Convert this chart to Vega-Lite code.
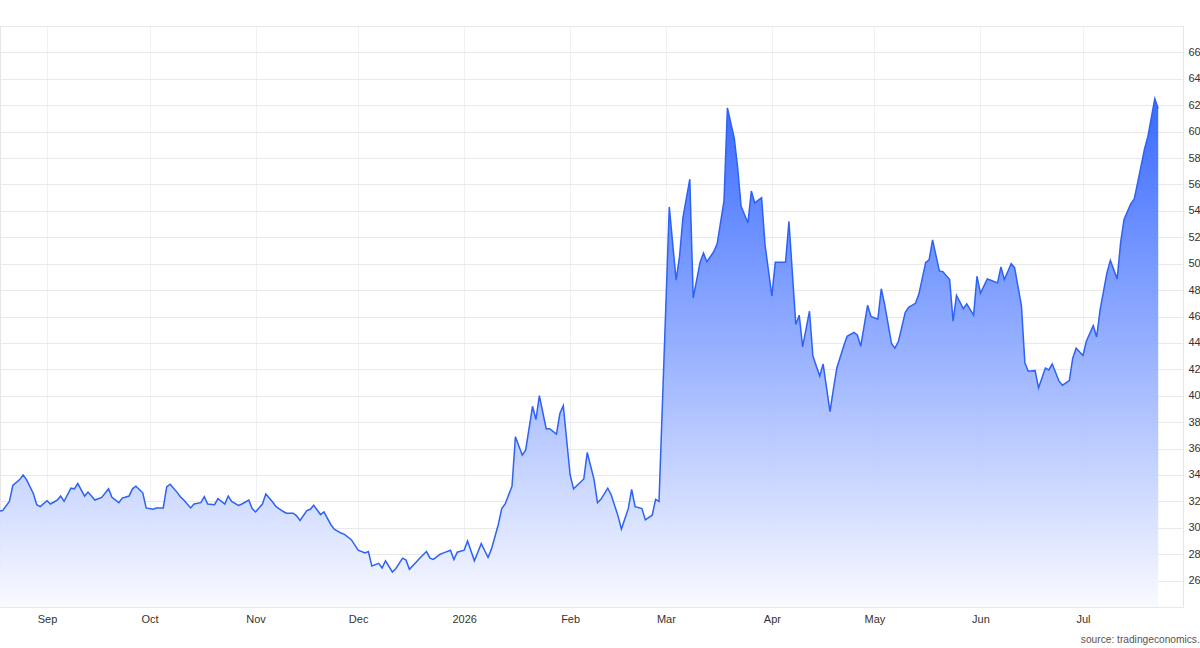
{
  "$schema": "https://vega.github.io/schema/vega-lite/v6.json",
  "width": 1183,
  "height": 581,
  "autosize": "none",
  "padding": {"left": 0, "top": 26, "right": 17, "bottom": 41},
  "background": "white",
  "config": {"view": {"stroke": "#e6e6e6", "strokeWidth": 1}, "font": "Liberation Sans"},
  "title": {"text": "source: tradingeconomics.com", "orient": "bottom", "anchor": "end", "frame": "group", "dx": 36, "offset": 11, "fontSize": 10.2, "fontWeight": "normal", "color": "#555555"},
  "data": {"values": [
    {"date": "2025-08-18", "v": 31.25}, {"date": "2025-08-19", "v": 31.3}, {"date": "2025-08-21", "v": 32.0}, {"date": "2025-08-22", "v": 33.2},
    {"date": "2025-08-24", "v": 33.65}, {"date": "2025-08-25", "v": 34.0}, {"date": "2025-08-26", "v": 33.65}, {"date": "2025-08-28", "v": 32.6},
    {"date": "2025-08-29", "v": 31.75}, {"date": "2025-08-30", "v": 31.6}, {"date": "2025-09-01", "v": 32.05}, {"date": "2025-09-02", "v": 31.8},
    {"date": "2025-09-04", "v": 32.1}, {"date": "2025-09-05", "v": 32.4}, {"date": "2025-09-06", "v": 32.0}, {"date": "2025-09-08", "v": 33.0},
    {"date": "2025-09-09", "v": 32.95}, {"date": "2025-09-10", "v": 33.35}, {"date": "2025-09-12", "v": 32.4}, {"date": "2025-09-13", "v": 32.7},
    {"date": "2025-09-15", "v": 32.1}, {"date": "2025-09-17", "v": 32.3}, {"date": "2025-09-19", "v": 32.95}, {"date": "2025-09-20", "v": 32.3},
    {"date": "2025-09-22", "v": 31.9}, {"date": "2025-09-23", "v": 32.25}, {"date": "2025-09-25", "v": 32.4}, {"date": "2025-09-26", "v": 32.95},
    {"date": "2025-09-27", "v": 33.15}, {"date": "2025-09-29", "v": 32.65}, {"date": "2025-09-30", "v": 31.5}, {"date": "2025-10-02", "v": 31.4},
    {"date": "2025-10-03", "v": 31.5}, {"date": "2025-10-05", "v": 31.5}, {"date": "2025-10-06", "v": 33.1}, {"date": "2025-10-07", "v": 33.3},
    {"date": "2025-10-09", "v": 32.7}, {"date": "2025-10-10", "v": 32.35}, {"date": "2025-10-11", "v": 32.1}, {"date": "2025-10-13", "v": 31.5},
    {"date": "2025-10-14", "v": 31.8}, {"date": "2025-10-16", "v": 31.9}, {"date": "2025-10-17", "v": 32.35}, {"date": "2025-10-18", "v": 31.8},
    {"date": "2025-10-20", "v": 31.75}, {"date": "2025-10-21", "v": 32.2}, {"date": "2025-10-23", "v": 31.8}, {"date": "2025-10-24", "v": 32.4},
    {"date": "2025-10-25", "v": 32.0}, {"date": "2025-10-27", "v": 31.7}, {"date": "2025-10-28", "v": 31.8}, {"date": "2025-10-30", "v": 32.1},
    {"date": "2025-10-31", "v": 31.45}, {"date": "2025-11-01", "v": 31.2}, {"date": "2025-11-03", "v": 31.8}, {"date": "2025-11-04", "v": 32.55},
    {"date": "2025-11-06", "v": 31.95}, {"date": "2025-11-07", "v": 31.6}, {"date": "2025-11-09", "v": 31.25}, {"date": "2025-11-10", "v": 31.1},
    {"date": "2025-11-12", "v": 31.1}, {"date": "2025-11-13", "v": 30.9}, {"date": "2025-11-14", "v": 30.55}, {"date": "2025-11-16", "v": 31.3},
    {"date": "2025-11-17", "v": 31.4}, {"date": "2025-11-18", "v": 31.7}, {"date": "2025-11-20", "v": 31.0}, {"date": "2025-11-21", "v": 31.2},
    {"date": "2025-11-23", "v": 30.25}, {"date": "2025-11-24", "v": 29.9}, {"date": "2025-11-26", "v": 29.6}, {"date": "2025-11-27", "v": 29.5},
    {"date": "2025-11-29", "v": 29.1}, {"date": "2025-11-30", "v": 28.7}, {"date": "2025-12-01", "v": 28.3}, {"date": "2025-12-03", "v": 28.1},
    {"date": "2025-12-04", "v": 28.2}, {"date": "2025-12-05", "v": 27.1}, {"date": "2025-12-07", "v": 27.3}, {"date": "2025-12-08", "v": 26.95},
    {"date": "2025-12-09", "v": 27.5}, {"date": "2025-12-11", "v": 26.65}, {"date": "2025-12-12", "v": 26.9}, {"date": "2025-12-14", "v": 27.7},
    {"date": "2025-12-15", "v": 27.55}, {"date": "2025-12-16", "v": 26.85}, {"date": "2025-12-18", "v": 27.4}, {"date": "2025-12-19", "v": 27.7},
    {"date": "2025-12-21", "v": 28.2}, {"date": "2025-12-22", "v": 27.7}, {"date": "2025-12-23", "v": 27.6}, {"date": "2025-12-25", "v": 28.0},
    {"date": "2025-12-26", "v": 28.1}, {"date": "2025-12-28", "v": 28.3}, {"date": "2025-12-29", "v": 27.6}, {"date": "2025-12-30", "v": 28.15},
    {"date": "2026-01-01", "v": 28.3}, {"date": "2026-01-02", "v": 29.0}, {"date": "2026-01-04", "v": 27.5}, {"date": "2026-01-05", "v": 28.15},
    {"date": "2026-01-06", "v": 28.8}, {"date": "2026-01-08", "v": 27.75}, {"date": "2026-01-09", "v": 28.4}, {"date": "2026-01-11", "v": 30.25},
    {"date": "2026-01-12", "v": 31.45}, {"date": "2026-01-13", "v": 31.8}, {"date": "2026-01-15", "v": 33.15}, {"date": "2026-01-16", "v": 36.9},
    {"date": "2026-01-18", "v": 35.5}, {"date": "2026-01-19", "v": 35.9}, {"date": "2026-01-21", "v": 39.2}, {"date": "2026-01-22", "v": 38.2},
    {"date": "2026-01-23", "v": 40.0}, {"date": "2026-01-25", "v": 37.5}, {"date": "2026-01-26", "v": 37.5}, {"date": "2026-01-28", "v": 37.1},
    {"date": "2026-01-29", "v": 38.65}, {"date": "2026-01-30", "v": 39.25}, {"date": "2026-02-01", "v": 34.0}, {"date": "2026-02-02", "v": 32.95},
    {"date": "2026-02-04", "v": 33.45}, {"date": "2026-02-05", "v": 33.7}, {"date": "2026-02-06", "v": 35.7}, {"date": "2026-02-08", "v": 33.65},
    {"date": "2026-02-09", "v": 31.9}, {"date": "2026-02-10", "v": 32.15}, {"date": "2026-02-12", "v": 33.0}, {"date": "2026-02-13", "v": 32.5},
    {"date": "2026-02-15", "v": 30.9}, {"date": "2026-02-16", "v": 29.9}, {"date": "2026-02-18", "v": 31.45}, {"date": "2026-02-19", "v": 32.9},
    {"date": "2026-02-20", "v": 31.6}, {"date": "2026-02-22", "v": 31.45}, {"date": "2026-02-23", "v": 30.6}, {"date": "2026-02-25", "v": 30.95},
    {"date": "2026-02-26", "v": 32.15}, {"date": "2026-02-27", "v": 32.0}, {"date": "2026-03-02", "v": 54.3}, {"date": "2026-03-04", "v": 48.75},
    {"date": "2026-03-05", "v": 50.55}, {"date": "2026-03-06", "v": 53.5}, {"date": "2026-03-08", "v": 56.4}, {"date": "2026-03-09", "v": 47.4},
    {"date": "2026-03-11", "v": 50.1}, {"date": "2026-03-12", "v": 50.8}, {"date": "2026-03-13", "v": 50.15}, {"date": "2026-03-15", "v": 50.9},
    {"date": "2026-03-16", "v": 51.5}, {"date": "2026-03-18", "v": 54.75}, {"date": "2026-03-19", "v": 61.8}, {"date": "2026-03-21", "v": 59.5},
    {"date": "2026-03-22", "v": 57.25}, {"date": "2026-03-23", "v": 54.35}, {"date": "2026-03-25", "v": 53.1}, {"date": "2026-03-26", "v": 55.5},
    {"date": "2026-03-27", "v": 54.6}, {"date": "2026-03-29", "v": 55.0}, {"date": "2026-03-30", "v": 51.45}, {"date": "2026-04-01", "v": 47.55},
    {"date": "2026-04-02", "v": 50.1}, {"date": "2026-04-03", "v": 50.1}, {"date": "2026-04-05", "v": 50.1}, {"date": "2026-04-06", "v": 53.2},
    {"date": "2026-04-08", "v": 45.4}, {"date": "2026-04-09", "v": 46.1}, {"date": "2026-04-10", "v": 43.7}, {"date": "2026-04-12", "v": 46.4},
    {"date": "2026-04-13", "v": 43.0}, {"date": "2026-04-15", "v": 41.5}, {"date": "2026-04-16", "v": 42.4}, {"date": "2026-04-18", "v": 38.8},
    {"date": "2026-04-19", "v": 40.5}, {"date": "2026-04-20", "v": 42.1}, {"date": "2026-04-22", "v": 43.75}, {"date": "2026-04-23", "v": 44.5},
    {"date": "2026-04-25", "v": 44.8}, {"date": "2026-04-26", "v": 44.6}, {"date": "2026-04-27", "v": 43.75}, {"date": "2026-04-29", "v": 46.85},
    {"date": "2026-04-30", "v": 46.0}, {"date": "2026-05-02", "v": 45.8}, {"date": "2026-05-03", "v": 48.1}, {"date": "2026-05-04", "v": 46.9},
    {"date": "2026-05-06", "v": 43.95}, {"date": "2026-05-07", "v": 43.6}, {"date": "2026-05-08", "v": 44.1}, {"date": "2026-05-10", "v": 46.3},
    {"date": "2026-05-11", "v": 46.7}, {"date": "2026-05-13", "v": 47.0}, {"date": "2026-05-14", "v": 47.7}, {"date": "2026-05-16", "v": 50.1},
    {"date": "2026-05-17", "v": 50.3}, {"date": "2026-05-18", "v": 51.8}, {"date": "2026-05-20", "v": 49.45}, {"date": "2026-05-21", "v": 49.4},
    {"date": "2026-05-23", "v": 48.8}, {"date": "2026-05-24", "v": 45.65}, {"date": "2026-05-25", "v": 47.6}, {"date": "2026-05-27", "v": 46.6},
    {"date": "2026-05-28", "v": 46.95}, {"date": "2026-05-30", "v": 46.1}, {"date": "2026-05-31", "v": 49.05}, {"date": "2026-06-01", "v": 47.75},
    {"date": "2026-06-03", "v": 48.85}, {"date": "2026-06-04", "v": 48.75}, {"date": "2026-06-06", "v": 48.55}, {"date": "2026-06-07", "v": 49.75},
    {"date": "2026-06-08", "v": 48.8}, {"date": "2026-06-10", "v": 50.0}, {"date": "2026-06-11", "v": 49.7}, {"date": "2026-06-13", "v": 46.8},
    {"date": "2026-06-14", "v": 42.5}, {"date": "2026-06-15", "v": 41.85}, {"date": "2026-06-17", "v": 41.9}, {"date": "2026-06-18", "v": 40.6},
    {"date": "2026-06-20", "v": 42.1}, {"date": "2026-06-21", "v": 41.95}, {"date": "2026-06-22", "v": 42.4}, {"date": "2026-06-24", "v": 41.1},
    {"date": "2026-06-25", "v": 40.8}, {"date": "2026-06-27", "v": 41.15}, {"date": "2026-06-28", "v": 42.85}, {"date": "2026-06-29", "v": 43.6},
    {"date": "2026-07-01", "v": 43.05}, {"date": "2026-07-02", "v": 44.15}, {"date": "2026-07-04", "v": 45.3}, {"date": "2026-07-05", "v": 44.45},
    {"date": "2026-07-06", "v": 46.5}, {"date": "2026-07-08", "v": 49.3}, {"date": "2026-07-09", "v": 50.25}, {"date": "2026-07-11", "v": 48.85},
    {"date": "2026-07-12", "v": 51.6}, {"date": "2026-07-13", "v": 53.35}, {"date": "2026-07-15", "v": 54.55}, {"date": "2026-07-16", "v": 54.9},
    {"date": "2026-07-18", "v": 57.4}, {"date": "2026-07-19", "v": 58.7}, {"date": "2026-07-20", "v": 59.65}, {"date": "2026-07-22", "v": 62.5},
    {"date": "2026-07-23", "v": 61.75}
  ]},
  "mark": {
    "type": "area",
    "clip": true,
    "interpolate": "linear",
    "opacity": 1,
    "fillOpacity": 0.93,
    "line": {"color": "#2d62f5", "strokeWidth": 1.5},
    "color": {
      "gradient": "linear",
      "x1": 0, "y1": 0, "x2": 0, "y2": 1,
      "stops": [
        {"offset": 0, "color": "#2a5fff"},
        {"offset": 1, "color": "#f9faff"}
      ]
    }
  },
  "encoding": {
    "x": {
      "field": "date",
      "type": "temporal",
      "scale": {"domain": [{"year": 2025, "month": 8, "date": 18, "hours": 6}, {"year": 2026, "month": 7, "date": 30, "hours": 6}]},
      "axis": {
        "title": null,
        "tickCount": {"interval": "month", "step": 1},
        "labelExpr": "month(datum.value) == 0 ? timeFormat(datum.value, '%Y') : timeFormat(datum.value, '%b')",
        "grid": true,
        "gridColor": "#eef1f5",
        "ticks": false,
        "domain": false,
        "labelPadding": 6,
        "labelFontSize": 11,
        "labelColor": "#333333",
        "labelFlush": false
      }
    },
    "y": {
      "field": "v",
      "type": "quantitative",
      "scale": {"domain": [24, 68], "zero": false, "nice": false},
      "axis": {
        "orient": "right",
        "title": null,
        "values": [24, 26, 28, 30, 32, 34, 36, 38, 40, 42, 44, 46, 48, 50, 52, 54, 56, 58, 60, 62, 64, 66, 68],
        "labelExpr": "datum.value == 24 || datum.value == 68 ? '' : datum.label",
        "grid": true,
        "gridColor": "#e9e9e9",
        "ticks": false,
        "domain": false,
        "labelPadding": 5,
        "labelFontSize": 11,
        "labelColor": "#333333"
      }
    },
    "y2": {"datum": 24}
  }
}
